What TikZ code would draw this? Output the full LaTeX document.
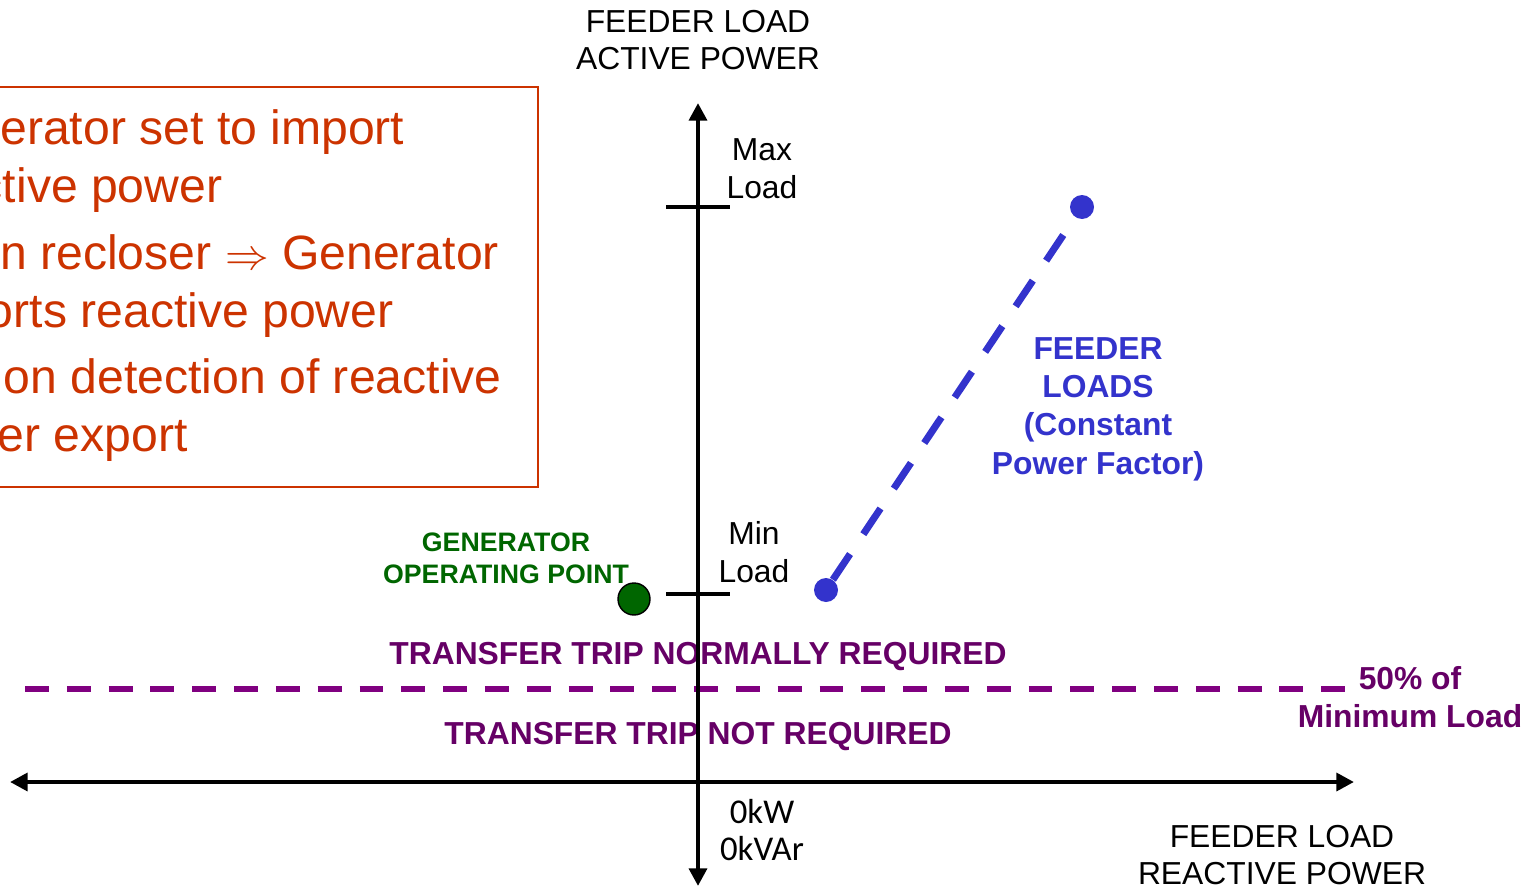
\documentclass[tikz,border=0pt]{standalone}
\usepackage{fontspec}
\setmainfont{Liberation Sans}
\newfontfamily\calfont{Carlito}
\usetikzlibrary{arrows.meta, positioning}

\definecolor{notered}{HTML}{CC3300}
\definecolor{gengreen}{HTML}{006600}
\definecolor{loadblue}{HTML}{3333CC}
\definecolor{tripline}{HTML}{800080}
\definecolor{triptext}{HTML}{660066}

\begin{document}
\begin{tikzpicture} [x=0.02cm, y=-0.02cm,
                axis/.style = {line width=2.8pt,
                    {Triangle[length=10pt, width=10pt]}-{Triangle[length=10pt, width=10pt]}},
                tick/.style = {line width=2.8pt},
                axislabel/.style = {font=\fontsize{18.1}{21.5}\selectfont,
                    align=center, inner sep=0pt},
                note/.style = {font=\fontsize{27.4}{32.9}\selectfont,
                    text=notered, align=left, inner sep=0pt, anchor=north west},
                trip/.style = {font=\bfseries\fontsize{18.1}{21.5}\selectfont,
                    text=triptext, align=center, inner sep=0pt}]

            \path [use as bounding box, clip] (0,0) rectangle (1539,886);

            % Note box
            \draw [notered, line width=1.1pt] (-20,87) rectangle (538,487);
            \node (note1) [note] at (-91,109) {Generator set to import\\reactive power};
            \node (note2) [note] at (-91,234) {Open recloser {\fontsize{30.5}{32.9}\selectfont$\Rightarrow$} Generator\\exports reactive power};
            \node (note3) [note] at (-91,358) {Trip on detection of reactive\\power export};

            % Trip zones
            \coordinate (halfL) at (25,689);
            \coordinate (halfR) at (1352,689);
            \draw [tripline, line width=3.4pt, dash pattern=on 13.6pt off 10.2pt]
                (halfL) -- (halfR);
            \node (half) [trip] at (1410,697) {50\% of\\Minimum Load};
            \node (tripyes) [trip] at (698,657) {TRANSFER TRIP NORMALLY REQUIRED};
            \node (tripno) [trip] at (698,737) {TRANSFER TRIP NOT REQUIRED};

            % Generator
            \node (gen) [circle, draw=black, fill=gengreen, line width=0.8pt,
                minimum size=0.64cm, inner sep=0pt] at (634,599) {};
            \node (genlabel) [font=\bfseries\fontsize{15.2}{18.1}\selectfont,
                text=gengreen, align=center, inner sep=0pt] at (506,558)
                {GENERATOR\\OPERATING POINT};

            % Feeder loads
            \node (minload) [circle, fill=loadblue, minimum size=0.48cm,
                inner sep=0pt] at (826,590) {};
            \node (maxload) [circle, fill=loadblue, minimum size=0.48cm,
                inner sep=0pt] at (1082,207) {};
            \draw [loadblue, line width=4pt, dash pattern=on 17.6pt off 13.6pt]
                (minload) -- (maxload);
            \node (loads) [axislabel, font=\bfseries\fontsize{18.1}{21.8}\selectfont,
                text=loadblue] at (1098,409)
                {FEEDER\\LOADS\\(Constant\\Power Factor)};

            % Axes
            \coordinate (left) at (10,782);
            \coordinate (right) at (1354,782);
            \coordinate (bottom) at (698,886);
            \coordinate (top) at (698,103);
            \draw [axis] (left) -- (right);
            \draw [axis] (bottom) -- (top);

            % Ticks
            \draw [tick] (666,207) -- (730,207);
            \draw [tick] (666,594) -- (730,594);

            % Axis labels
            \node (ylabel) [axislabel] at (698,40) {FEEDER LOAD\\ACTIVE POWER};
            \node (xlabel) [axislabel] at (1282,855) {FEEDER LOAD\\REACTIVE POWER};
            \node (maxtext) [axislabel] at (762,169) {Max\\Load};
            \node (mintext) [axislabel] at (754,552) {Min\\Load};
            \node (origin) [axislabel, font=\calfont\fontsize{19.8}{21.5}\selectfont]
                at (762,830) {0kW\\0kVAr};
\end{tikzpicture}
\end{document}
